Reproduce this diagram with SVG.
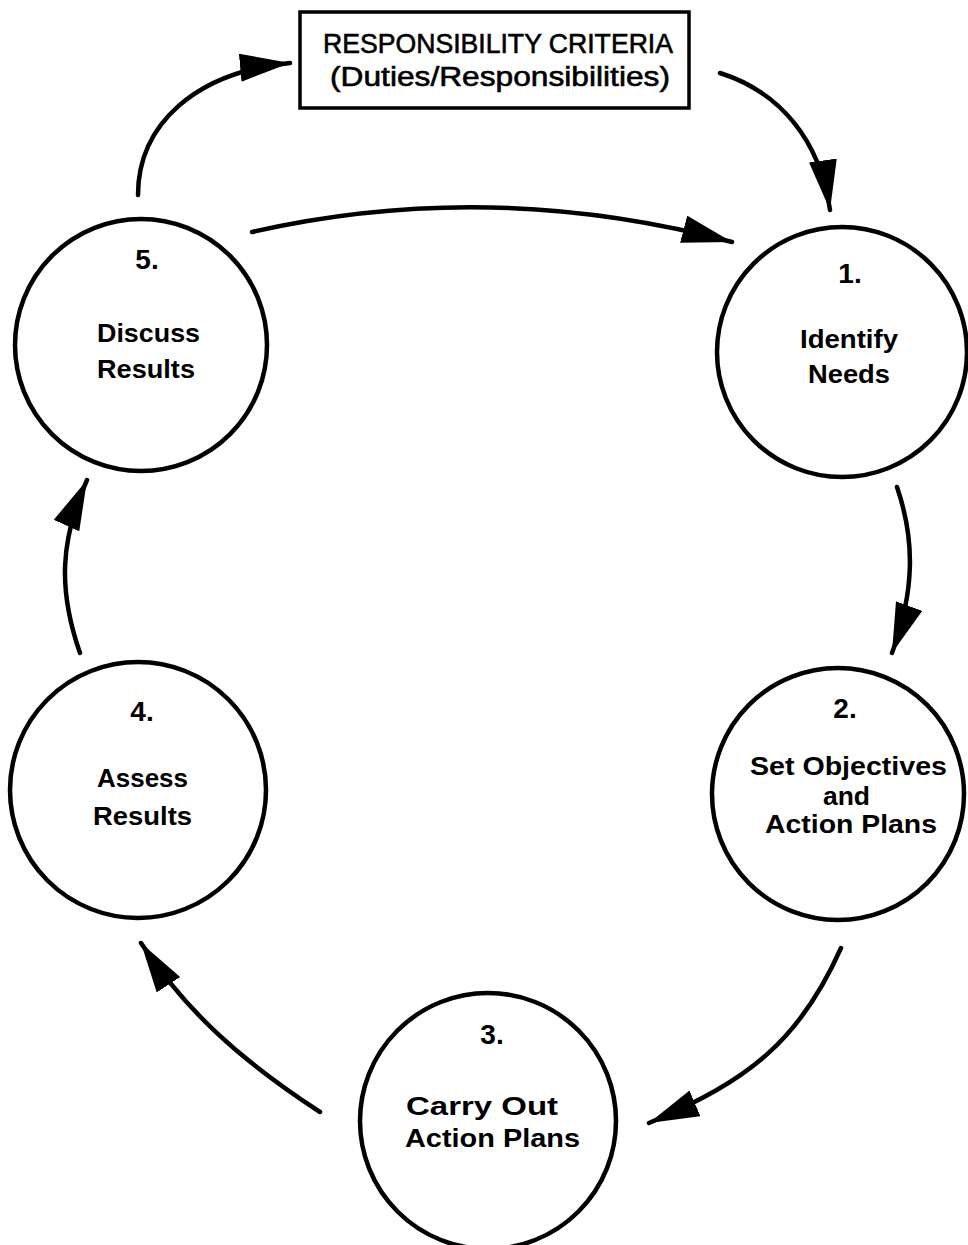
<svg xmlns="http://www.w3.org/2000/svg" width="968" height="1245" viewBox="0 0 968 1245">
<style>
.n{fill:#fff;stroke:#000;stroke-width:4.5}
.t{font-family:"Liberation Sans",Arial,sans-serif;font-weight:bold;font-size:25px;fill:#000}
.d{font-family:"Liberation Sans",Arial,sans-serif;font-weight:bold;font-size:28px;fill:#000}
.h{font-family:"Liberation Sans",Arial,sans-serif;font-weight:normal;font-size:27px;fill:#000;stroke:#000;stroke-width:0.6}
.c{fill:none;stroke:#000;stroke-width:4.5;stroke-linecap:round;marker-end:url(#ah)}
</style>
<defs>
<marker id="ah" markerUnits="userSpaceOnUse" markerWidth="54" markerHeight="32" refX="50" refY="14" orient="auto">
<path d="M0,0 L50,14 L0,28 Z" fill="#000"/>
</marker>
</defs>
<rect width="968" height="1245" fill="#fff"/>
<g id="connectors">
<path class="c" d="M138,195 C138,125 195,72 290,63"/>
<path class="c" d="M720,73 C780,92 820,140 830,210"/>
<path class="c" d="M252,232 Q490,178 732,242"/>
<path class="c" d="M897,487 C915,540 915,590 892,653"/>
<path class="c" d="M841,948 C800,1040 750,1080 649,1123"/>
<path class="c" d="M320,1112 C240,1060 185,1010 141,943"/>
<path class="c" d="M80,653 C58,590 60,540 87,480"/>
</g>
<g id="criteria">
<rect x="300" y="12" width="389" height="96" fill="#fff" stroke="#000" stroke-width="3.5"/>
<text class="h" x="323" y="53" textLength="350" lengthAdjust="spacingAndGlyphs">RESPONSIBILITY CRITERIA</text>
<text class="h" x="330" y="86" textLength="340" lengthAdjust="spacingAndGlyphs">(Duties/Responsibilities)</text>
</g>
<g id="node1">
<circle class="n" cx="842" cy="352" r="125"/>
<text class="d" x="850" y="283" text-anchor="middle">1.</text>
<text class="t" x="800" y="348" textLength="98" lengthAdjust="spacingAndGlyphs">Identify</text>
<text class="t" x="808" y="383" textLength="82" lengthAdjust="spacingAndGlyphs">Needs</text>
</g>
<g id="node2">
<circle class="n" cx="838" cy="794" r="126"/>
<text class="d" x="845" y="718" text-anchor="middle">2.</text>
<text class="t" x="750" y="775" textLength="197" lengthAdjust="spacingAndGlyphs">Set Objectives</text>
<text class="t" x="823" y="805" textLength="47" lengthAdjust="spacingAndGlyphs">and</text>
<text class="t" x="765" y="833" textLength="172" lengthAdjust="spacingAndGlyphs">Action Plans</text>
</g>
<g id="node3">
<circle class="n" cx="488" cy="1121" r="128"/>
<text class="d" x="492" y="1044" text-anchor="middle">3.</text>
<text class="t" x="406" y="1115" textLength="152" lengthAdjust="spacingAndGlyphs">Carry Out</text>
<text class="t" x="405" y="1147" textLength="175" lengthAdjust="spacingAndGlyphs">Action Plans</text>
</g>
<g id="node4">
<circle class="n" cx="138" cy="790" r="128"/>
<text class="d" x="142" y="721" text-anchor="middle">4.</text>
<text class="t" x="97" y="787" textLength="91" lengthAdjust="spacingAndGlyphs">Assess</text>
<text class="t" x="93" y="825" textLength="99" lengthAdjust="spacingAndGlyphs">Results</text>
</g>
<g id="node5">
<circle class="n" cx="141" cy="345" r="126"/>
<text class="d" x="147" y="269" text-anchor="middle">5.</text>
<text class="t" x="97" y="342" textLength="103" lengthAdjust="spacingAndGlyphs">Discuss</text>
<text class="t" x="97" y="378" textLength="98" lengthAdjust="spacingAndGlyphs">Results</text>
</g>
</svg>
